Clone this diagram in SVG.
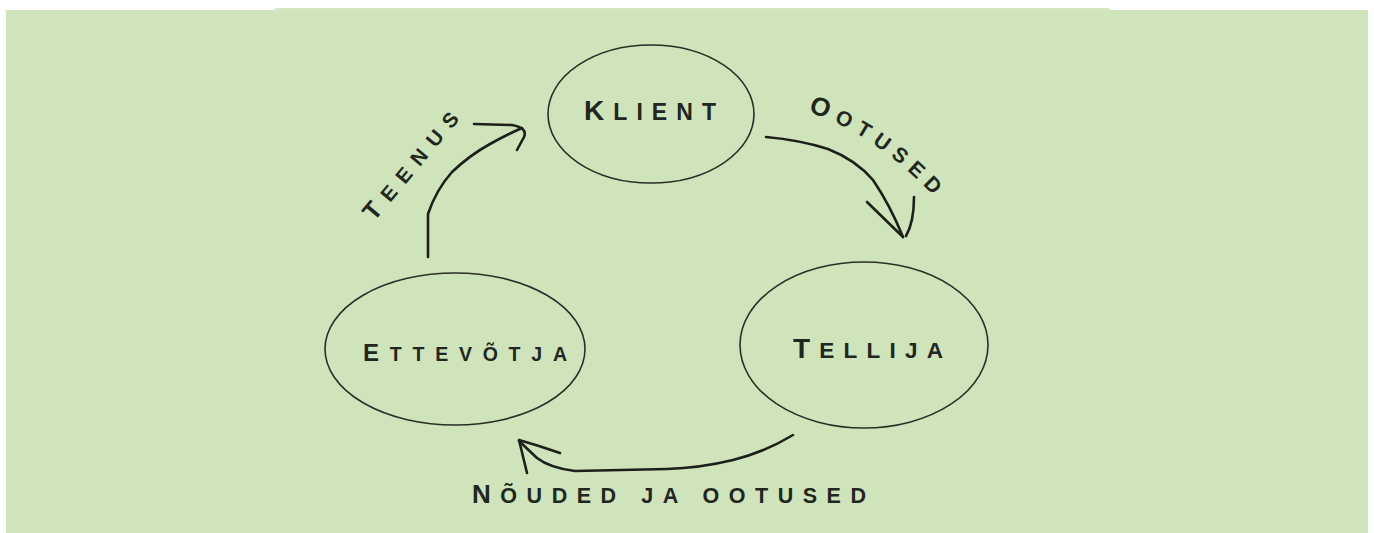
<svg xmlns="http://www.w3.org/2000/svg" xmlns:xlink="http://www.w3.org/1999/xlink" width="1374" height="533" viewBox="0 0 1374 533">
  <style>
    .node { fill: none; stroke: #2b2f28; stroke-width: 1.6; }
    .lbl { font-family: "Liberation Sans", Arial, sans-serif; font-weight: bold; fill: #222620; }
    .sc { text-transform: uppercase; }
    .conn { fill: none; stroke: #1c1f1a; stroke-width: 2.6; stroke-linecap: round; stroke-linejoin: round; }
  </style>
  <defs>
    <path id="pTeenus" d="M 374 222 L 466 112"/>
    <path id="pOotused" d="M 808 112 Q 878 134 942 205"/>
  </defs>
  <rect x="0" y="0" width="1374" height="533" fill="#ffffff"/>
  <rect x="6" y="10" width="1362" height="523" fill="#cfe4bb"/>
  <rect x="275" y="8" width="834" height="4" fill="#d2e6bf"/>

  <g id="connectors">
    <g id="c-teenus">
      <path class="conn" d="M 428 257 L 428 214 Q 436 190 452 172 Q 470 155 490 144 Q 508 134 522 128"/>
      <path class="conn" d="M 474 124 L 512 125 Q 528 128 524 137 L 517 150"/>
    </g>
    <g id="c-ootused">
      <path class="conn" d="M 766 137 Q 800 140 828 149 Q 856 160 873 180 Q 890 205 903 237"/>
      <path class="conn" d="M 867 202 L 903 237"/>
      <path class="conn" d="M 914 197 Q 914 222 906 236"/>
    </g>
    <g id="c-noudmised">
      <path class="conn" d="M 793 435 Q 765 452 733 460 Q 700 468 667 469 L 575 471 Q 550 468 537 458 L 519 441"/>
      <path class="conn" d="M 560 453 Q 540 446 519 440 L 527 473"/>
    </g>
  </g>

  <g id="klient">
    <ellipse class="node" cx="651" cy="114" rx="103" ry="69"/>
    <text class="lbl" x="584" y="120" font-size="28" textLength="132" lengthAdjust="spacing">K<tspan class="sc" font-size="23">lient</tspan></text>
  </g>
  <g id="ettevotja">
    <ellipse class="node" cx="455" cy="349" rx="130" ry="76"/>
    <text class="lbl" x="363" y="361" font-size="24" textLength="204" lengthAdjust="spacing">E<tspan class="sc" font-size="19.5">ttevõtja</tspan></text>
  </g>
  <g id="tellija">
    <ellipse class="node" cx="864" cy="345" rx="124" ry="83"/>
    <text class="lbl" x="793" y="358" font-size="28" textLength="150" lengthAdjust="spacing">T<tspan class="sc" font-size="22.5">ellija</tspan></text>
  </g>

  <g id="labels">
    <text class="lbl" font-size="25"><textPath xlink:href="#pTeenus" href="#pTeenus" textLength="134" lengthAdjust="spacing">T<tspan class="sc" font-size="20.5">eenus</tspan></textPath></text>
    <text class="lbl" font-size="26"><textPath xlink:href="#pOotused" href="#pOotused" textLength="152" lengthAdjust="spacing">O<tspan class="sc" font-size="21">otused</tspan></textPath></text>
    <text class="lbl" x="472" y="503" font-size="26" textLength="394" lengthAdjust="spacing">N<tspan class="sc" font-size="21.5">õuded ja ootused</tspan></text>
  </g>
</svg>
